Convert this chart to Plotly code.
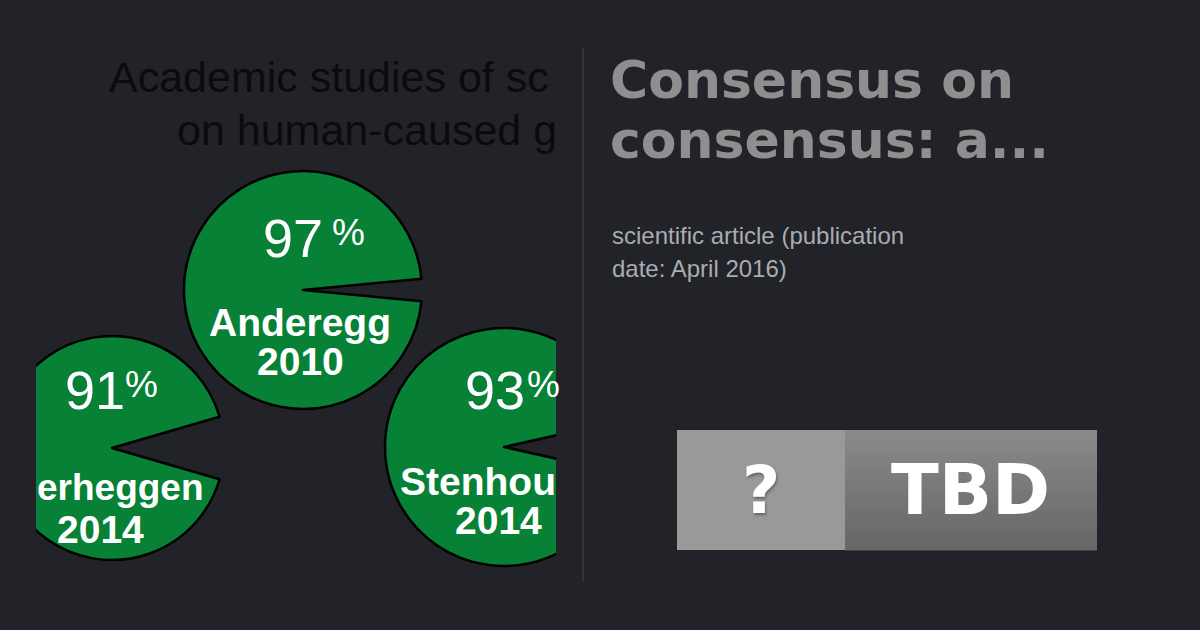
import plotly.graph_objects as go

# ---------------- data ----------------
studies_shown = ["Anderegg", "erheggen", "Stenhou"]      # visible (cropped) study labels
years = ["2010", "2014", "2014"]
consensus_pct = [97, 91, 93]

chart_title_lines = ["Academic studies of sc", "on human-caused g"]
card_title_lines = ["Consensus on", "consensus: a..."]
card_subtitle_lines = ["scientific article (publication", "date: April 2016)"]
badge_left = "?"
badge_right = "TBD"

# ---------------- style ----------------
BG = "#212328"
GREEN = "#068135"
W, H = 1200, 630

# pie layout (pixel centre x, centre y, radius)
pie_geom = [(303, 290, 119), (110, 448, 114), (504, 447, 119)]
num_pos = [(293, 238, 348, 232), (95, 390, 141, 384), (495, 390, 543, 384)]
name_pos = [(300, 322, "center", 39), (35, 487, "left", 37), (398, 481, "left", 39)]
year_pos = [(300, 361), (100, 529), (498, 520)]

fig = go.Figure()

# hidden pixel-space axes for shapes/annotations
fig.add_trace(go.Scatter(x=[0, W], y=[0, H], mode="markers",
                         marker=dict(opacity=0), hoverinfo="skip", showlegend=False))

for (cx, cy, r), pct in zip(pie_geom, consensus_pct):
    gap = 100 - pct
    gap_deg = gap * 3.6
    fig.add_trace(go.Pie(
        values=[gap, pct],
        sort=False,
        direction="clockwise",
        rotation=90 - gap_deg / 2,
        marker=dict(colors=["rgba(0,0,0,0)", GREEN],
                    line=dict(color=["rgba(0,0,0,0)", "#000000"], width=2.5)),
        textinfo="none",
        hoverinfo="skip",
        showlegend=False,
        domain=dict(x=[max(cx - r, 0) / W, (cx + r) / W],
                    y=[1 - (cy + r) / H, 1 - (cy - r) / H]),
    ))

shapes = []
# crop the left panel
shapes.append(dict(type="rect", xref="x", yref="y", x0=0, x1=36, y0=0, y1=H,
                   fillcolor=BG, line=dict(width=0), layer="above"))
shapes.append(dict(type="rect", xref="x", yref="y", x0=556, x1=660, y0=300, y1=H,
                   fillcolor=BG, line=dict(width=0), layer="above"))
# divider
shapes.append(dict(type="line", xref="x", yref="y", x0=583, x1=583, y0=48, y1=581,
                   line=dict(color="#3a3d42", width=1.5), layer="above"))
# badge
shapes.append(dict(type="rect", xref="x", yref="y", x0=677, x1=845, y0=430, y1=550,
                   fillcolor="#999999", line=dict(width=0), layer="above"))
nb = 30
top_c, bot_c = (0x8a, 0x8a, 0x8a), (0x66, 0x66, 0x66)
for i in range(nb):
    t = (i + 0.5) / nb
    c = tuple(int(round(top_c[k] + (bot_c[k] - top_c[k]) * t)) for k in range(3))
    shapes.append(dict(type="rect", xref="x", yref="y", x0=845, x1=1097,
                       y0=430 + 120 * i / nb, y1=430 + 120 * (i + 1) / nb + 0.6,
                       fillcolor="rgb(%d,%d,%d)" % c, line=dict(width=0), layer="above"))

ann = []
SANS = "Liberation Sans, Arial, sans-serif"
# chart title (black)
ann.append(dict(x=107, y=77, text=chart_title_lines[0], xanchor="left", yanchor="middle",
                font=dict(family=SANS, size=43, color="#0b0b0b")))
ann.append(dict(x=175, y=130, text=chart_title_lines[1], xanchor="left", yanchor="middle",
                font=dict(family=SANS, size=43, color="#0b0b0b")))

for i in range(3):
    nx, ny, px, py = num_pos[i]
    ann.append(dict(x=nx, y=ny, text=str(consensus_pct[i]), xanchor="center", yanchor="middle",
                    font=dict(family=SANS, size=54, color="white")))
    ann.append(dict(x=px, y=py, text="%", xanchor="center", yanchor="middle",
                    font=dict(family=SANS, size=37, color="white")))
    lx, ly, la, ls = name_pos[i]
    ann.append(dict(x=lx, y=ly, text="<b>%s</b>" % studies_shown[i], xanchor=la, yanchor="middle",
                    font=dict(family=SANS, size=ls, color="white")))
    yx, yy = year_pos[i]
    ann.append(dict(x=yx, y=yy, text="<b>%s</b>" % years[i], xanchor="center", yanchor="middle",
                    font=dict(family=SANS, size=39, color="white")))

# card title
TITLE_FONT = "DejaVu Sans, sans-serif"
ann.append(dict(x=608, y=80, text="<b>%s</b>" % card_title_lines[0], xanchor="left", yanchor="middle",
                font=dict(family=TITLE_FONT, size=52, color="#8f8f8f")))
ann.append(dict(x=608, y=140, text="<b>%s</b>" % card_title_lines[1], xanchor="left", yanchor="middle",
                font=dict(family=TITLE_FONT, size=52, color="#8f8f8f")))
# subtitle
ann.append(dict(x=610, y=235, text=card_subtitle_lines[0], xanchor="left", yanchor="middle",
                font=dict(family=SANS, size=24, color="#a9acb1")))
ann.append(dict(x=610, y=268, text=card_subtitle_lines[1], xanchor="left", yanchor="middle",
                font=dict(family=SANS, size=24, color="#a9acb1")))
# badge text
ann.append(dict(x=761, y=490, text="<b>%s</b>" % badge_left, xanchor="center", yanchor="middle",
                font=dict(family=TITLE_FONT, size=66, color="white",
                          shadow="1px 2px 3px rgba(0,0,0,0.35)")))
ann.append(dict(x=970, y=490, text="<b>%s</b>" % badge_right, xanchor="center", yanchor="middle",
                font=dict(family=TITLE_FONT, size=70, color="white")))

for a in ann:
    a.update(xref="x", yref="y", showarrow=False)

fig.update_layout(
    width=W, height=H,
    margin=dict(l=0, r=0, t=0, b=0, pad=0),
    paper_bgcolor=BG, plot_bgcolor=BG,
    xaxis=dict(range=[0, W], visible=False, fixedrange=True, domain=[0, 1]),
    yaxis=dict(range=[H, 0], visible=False, fixedrange=True, domain=[0, 1]),
    shapes=shapes, annotations=ann,
    showlegend=False,
)

fig.write_html(
    "out.html",
    config={"displayModeBar": False},
    post_script="document.body.style.margin='0';document.body.style.background='%s';" % BG,
)
